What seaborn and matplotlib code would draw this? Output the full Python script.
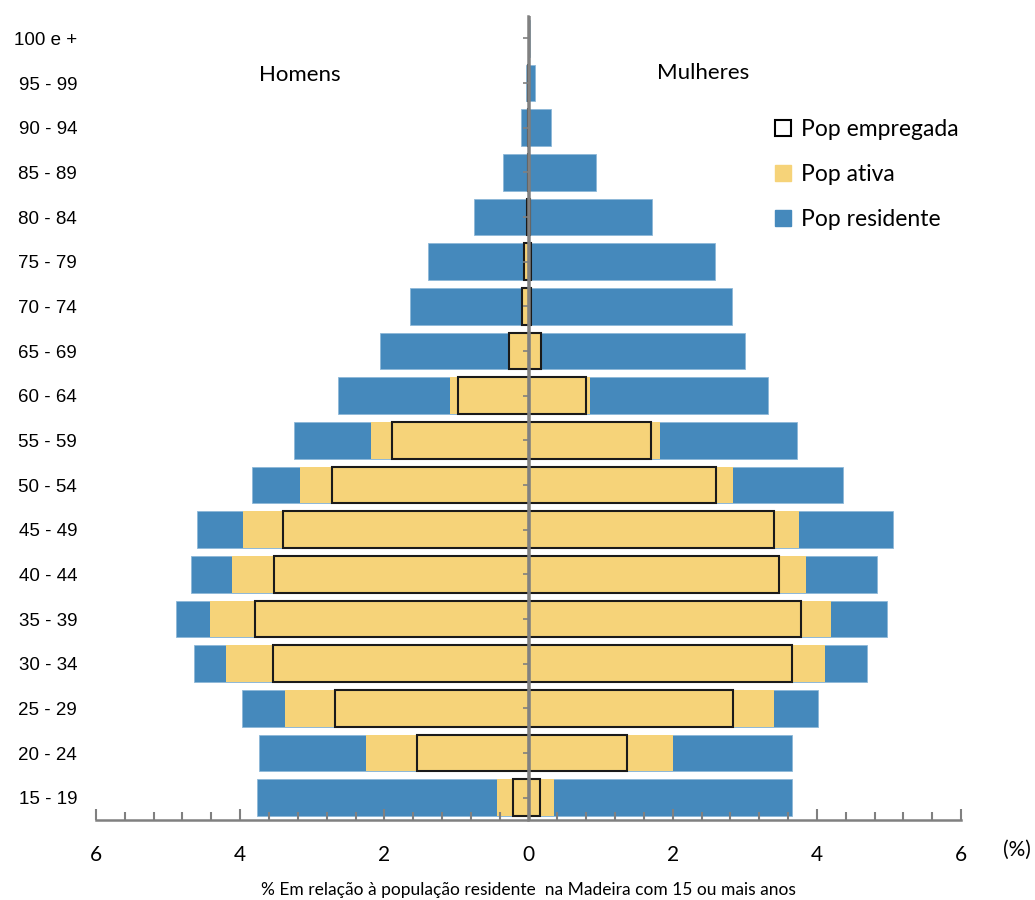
import numpy as np
import pandas as pd
import matplotlib.pyplot as plt
import seaborn as sns
from matplotlib.lines import Line2D
from matplotlib.ticker import MultipleLocator

# age groups, bottom to top
ages = ['15 - 19', '20 - 24', '25 - 29', '30 - 34', '35 - 39', '40 - 44',
        '45 - 49', '50 - 54', '55 - 59', '60 - 64', '65 - 69', '70 - 74',
        '75 - 79', '80 - 84', '85 - 89', '90 - 94', '95 - 99', '100 e +']

# % of resident population (15+) in Madeira
men_res = [3.77, 3.74, 3.97, 4.64, 4.89, 4.68, 4.60, 3.83, 3.25, 2.64, 2.06, 1.65,
           1.40, 0.76, 0.36, 0.10, 0.03, 0.005]
women_res = [3.66, 3.65, 4.02, 4.69, 4.97, 4.84, 5.05, 4.36, 3.73, 3.32, 3.01, 2.83,
             2.59, 1.71, 0.94, 0.31, 0.09, 0.02]
men_ativa = [0.44, 2.25, 3.38, 4.20, 4.42, 4.11, 3.96, 3.17, 2.19, 1.09, 0.27, 0.09,
             0.06, 0.02, 0.01, 0.01, 0.01, np.nan]
women_ativa = [0.35, 2.00, 3.41, 4.12, 4.20, 3.85, 3.75, 2.84, 1.83, 0.85, 0.17, 0.05,
               0.03, 0.02, 0.01, 0.01, 0.01, np.nan]
men_emp = [0.21, 1.54, 2.68, 3.55, 3.80, 3.53, 3.40, 2.72, 1.90, 0.98, 0.27, 0.09,
           0.06, 0.02, 0.01, 0.01, 0.01, np.nan]
women_emp = [0.16, 1.37, 2.84, 3.66, 3.78, 3.47, 3.40, 2.60, 1.70, 0.80, 0.17, 0.04,
             0.03, 0.02, 0.01, 0.01, 0.01, np.nan]

x_ticks = [-6, -4, -2, 0, 2, 4, 6]
x_tick_labels = ['6', '4', '2', '0', '2', '4', '6']
legend_labels = ['Pop empregada', 'Pop ativa', 'Pop residente']

blue = '#4589BC'
yellow = '#F6D379'
gray = '#808080'
order = ages[::-1]

fig = plt.figure(figsize=(10.35, 9), dpi=100)
ax = fig.add_axes([96/1035, 80/900, 865/1035, 804/900])

bw = 0.82
for vals, sign in ((men_res, -1), (women_res, 1)):
    sns.barplot(x=sign*np.array(vals), y=ages, order=order, orient='y', color=blue,
                saturation=1, width=bw, edgecolor='#8DB8D8', linewidth=0.6, ax=ax)
for vals, sign in ((men_ativa, -1), (women_ativa, 1)):
    sns.barplot(x=sign*np.array(vals), y=ages, order=order, orient='y', color=yellow,
                saturation=1, width=bw, linewidth=0, ax=ax)
for vals, sign in ((men_emp, -1), (women_emp, 1)):
    sns.barplot(x=sign*np.array(vals), y=ages, order=order, orient='y', color=yellow,
                saturation=1, width=bw, edgecolor='#1a1a1a', linewidth=1.5, ax=ax)

ax.set_xlim(-6, 6)
ax.set_ylim(len(ages) - 0.5, -0.5)
ax.set_xlabel('')
ax.set_ylabel('')
for s in ['left', 'top', 'right']:
    ax.spines[s].set_visible(False)
ax.spines['bottom'].set_color(gray)
ax.spines['bottom'].set_linewidth(1.8)

ax.set_xticks(x_ticks)
ax.set_xticklabels(x_tick_labels, fontfamily='Lato', fontsize=15)
ax.xaxis.set_minor_locator(MultipleLocator(0.4))
ax.tick_params(axis='x', which='major', direction='in', length=8, width=1.5, color=gray, pad=18)
ax.tick_params(axis='x', which='minor', direction='in', length=6, width=1.5, color=gray)
ax.tick_params(axis='y', length=0, pad=13.5)
for lab in ax.get_yticklabels():
    lab.set_fontfamily('Liberation Sans')
    lab.set_fontsize(13.5)

# centre axis, grey, on top of the bars, with small ticks to the left
sec = ax.secondary_yaxis(0.5)
sec.set_alignment('left')
sec.set_zorder(10)
sec.patch.set_visible(False)
sec.set_yticks(np.arange(len(ages)))
sec.set_yticklabels([])
sec.tick_params(length=3.5, width=1.2, color=gray, direction='out')
for s in ['left', 'right']:
    sec.spines[s].set_color(gray)
    sec.spines[s].set_linewidth(1.8)
ax.axvline(0, color=gray, lw=1.8, zorder=10)

fig.text(300/1035, 1 - 75/900, 'Homens', fontfamily='Lato', fontsize=16, ha='center', va='center')
fig.text(703/1035, 1 - 73/900, 'Mulheres', fontfamily='Lato', fontsize=16, ha='center', va='center')
fig.text(1017/1035, 1 - 850/900, '(%)', fontfamily='Lato', fontsize=15, ha='center', va='center')
fig.text(528/1035, 1 - 890/900, '% Em relação à população residente  na Madeira com 15 ou mais anos',
         fontfamily='Lato', fontsize=12.5, ha='center', va='center')

handles = [Line2D([], [], marker='s', linestyle='none', markersize=11,
                  markerfacecolor='white', markeredgecolor='black', markeredgewidth=1.5),
           Line2D([], [], marker='s', linestyle='none', markersize=11,
                  markerfacecolor=yellow, markeredgecolor=yellow),
           Line2D([], [], marker='s', linestyle='none', markersize=11,
                  markerfacecolor=blue, markeredgecolor=blue)]
fig.legend(handles, legend_labels, loc='upper left', bbox_to_anchor=(772/1035, 1 - 119/900),
           frameon=False, prop={'family': 'Lato', 'size': 16.5}, handlelength=1.0,
           handletextpad=0.25, labelspacing=1.05, borderpad=0, borderaxespad=0)

fig.savefig('out.png', dpi=100)
